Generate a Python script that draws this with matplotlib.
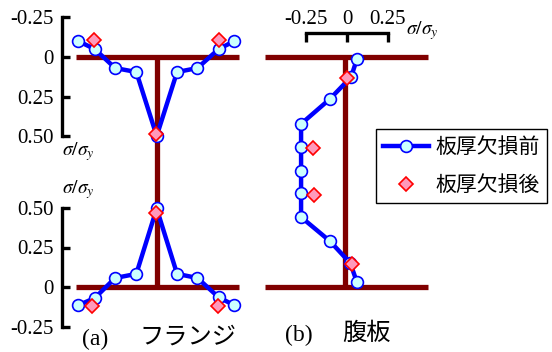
import matplotlib
matplotlib.use("Agg")
import matplotlib.pyplot as plt
from matplotlib import font_manager

SERIF = 'Liberation Serif'
names = {f.name for f in font_manager.fontManager.ttflist}
if SERIF not in names:
    SERIF = 'DejaVu Serif'
plt.rcParams['font.family'] = [SERIF, 'Noto Sans CJK JP']
plt.rcParams['mathtext.fontset'] = 'stix'

# ---- data (sigma / sigma_y) ----
# flange: position across flange width (0 = left tip, 1 = right tip)
flange_pos = [0.015, 0.115, 0.24, 0.37, 0.495, 0.62, 0.745, 0.875, 0.97]
top_before = [-0.10, -0.05, 0.07, 0.095, 0.50, 0.095, 0.07, -0.05, -0.10]
top_after_pos = [0.11, 0.49, 0.877]
top_after = [-0.11, 0.49, -0.11]

bot_before = [-0.115, -0.07, 0.057, 0.083, 0.497, 0.083, 0.057, -0.065, -0.115]
bot_after_pos = [0.10, 0.49, 0.87]
bot_after = [-0.12, 0.47, -0.12]

# web: depth from top flange (0) to bottom flange (1)
web_depth = [0.01, 0.087, 0.183, 0.291, 0.391, 0.496, 0.591, 0.696, 0.80, 0.896, 0.978]
web_before = [0.06, 0.025, -0.105, -0.28, -0.28, -0.28, -0.28, -0.28, -0.105, 0.02, 0.06]
web_after_depth = [0.091, 0.394, 0.599, 0.901]
web_after = [0.002, -0.21, -0.20, 0.033]

flange_ticks = [-0.25, 0, 0.25, 0.50]
flange_ticklabels = ['-0.25', '0', '0.25', '0.50']
web_ticks = [-0.25, 0, 0.25]
web_ticklabels = ['-0.25', '0', '0.25']
legend_labels = ['板厚欠損前', '板厚欠損後']

W, H = 552, 352
BEAM = '#800000'
BLUE = '#0000ff'

fig = plt.figure(figsize=(W / 100, H / 100), dpi=100)


def px_axes(x0, y0, x1, y1):
    return fig.add_axes([x0 / W, 1 - y1 / H, (x1 - x0) / W, (y1 - y0) / H])


def lin(p, a_px, a_val, b_px, b_val):
    return a_val + (p - a_px) * (b_val - a_val) / (b_px - a_px)


# schematic of the I-sections, pixel frame
bg = px_axes(0, 0, W, H)
bg.set_xlim(0, W)
bg.set_ylim(H, 0)
bg.axis('off')
for x0, xw in [(76, 157), (265, 345)]:
    x1 = x0 + 163
    bg.plot([x0, x1], [57, 57], color=BEAM, lw=3.8, solid_capstyle='butt')
    bg.plot([x0, x1], [287, 287], color=BEAM, lw=3.8, solid_capstyle='butt')
    bg.plot([xw, xw], [57, 287], color=BEAM, lw=3.8, solid_capstyle='butt')

bg.text(95, 339, '(a)', fontsize=17, ha='center', va='center', family=[SERIF])
bg.text(188, 337, 'フランジ', fontsize=17.5, ha='center', va='center',
        family=['Noto Sans CJK JP'])
bg.text(299, 335, '(b)', fontsize=17, ha='center', va='center', family=[SERIF])
bg.text(366, 333, '腹板', fontsize=17.5, ha='center', va='center',
        family=['Noto Sans CJK JP'])
bg.text(62, 152, r'$\sigma/\sigma_y$', fontsize=14, ha='left', va='center')
bg.text(62, 190, r'$\sigma/\sigma_y$', fontsize=14, ha='left', va='center')
bg.text(406, 31, r'$\sigma/\sigma_y$', fontsize=14, ha='left', va='center')

line_kw = dict(color=BLUE, lw=3.2, marker='o', ms=8.5, mfc='#ccffff',
               mec=BLUE, mew=1.2, clip_on=False, zorder=3)
dia_kw = dict(ls='none', marker='D', ms=7, mfc='#ff99bb', mec='#ff0000',
              mew=1.2, clip_on=False, zorder=4)


def style_flange(ax):
    ax.patch.set_visible(False)
    for s in ['top', 'right', 'bottom']:
        ax.spines[s].set_visible(False)
    ax.spines['left'].set_linewidth(2.4)
    ax.spines['left'].set_bounds(-0.25, 0.50)
    ax.set_xticks([])
    ax.set_yticks(flange_ticks)
    ax.set_yticklabels(flange_ticklabels, family=SERIF)
    ax.tick_params(axis='y', direction='in', length=5.5, width=2.4,
                   labelsize=15, pad=6)


# (a) top flange
ax1 = px_axes(62, 10, 250, 165)
ax1.set_xlim(lin(62, 76, 0, 239, 1), lin(250, 76, 0, 239, 1))
ax1.set_ylim(lin(165, 57, 0, 136, 0.5), lin(10, 57, 0, 136, 0.5))
style_flange(ax1)
ax1.plot(flange_pos, top_before, **line_kw)
ax1.plot(top_after_pos, top_after, **dia_kw)

# (a) bottom flange
ax2 = px_axes(62, 195, 250, 332)
ax2.set_xlim(lin(62, 76, 0, 239, 1), lin(250, 76, 0, 239, 1))
ax2.set_ylim(lin(332, 287, 0, 208, 0.5), lin(195, 287, 0, 208, 0.5))
style_flange(ax2)
ax2.plot(flange_pos, bot_before, **line_kw)
ax2.plot(bot_after_pos, bot_after, **dia_kw)

# (b) web
ax3 = px_axes(285, 33, 400, 295)
ax3.set_xlim(lin(285, 347, 0, 306, -0.25), lin(400, 347, 0, 306, -0.25))
ax3.set_ylim(lin(295, 57, 0, 287, 1), lin(33, 57, 0, 287, 1))
ax3.patch.set_visible(False)
for s in ['left', 'right', 'bottom']:
    ax3.spines[s].set_visible(False)
ax3.spines['top'].set_linewidth(2.4)
ax3.spines['top'].set_bounds(-0.25, 0.25)
ax3.set_yticks([])
ax3.xaxis.tick_top()
ax3.set_xticks(web_ticks)
ax3.set_xticklabels(web_ticklabels, family=SERIF)
ax3.tick_params(axis='x', direction='in', length=6.5, width=2.4,
                labelsize=15, pad=3)
h1, = ax3.plot(web_before, web_depth, **line_kw)
h2, = ax3.plot(web_after, web_after_depth, **dia_kw)

fig.legend([h1, h2], legend_labels, loc='upper left',
           bbox_to_anchor=(376 / W, 1 - 129 / H), borderaxespad=0,
           prop={'family': ['Noto Sans CJK JP'], 'size': 15},
           frameon=True, fancybox=False, framealpha=1, edgecolor='black',
           handlelength=2.2, handletextpad=0.3, labelspacing=0.75,
           borderpad=0.35)
fig.legends[0].get_frame().set_linewidth(1.0)

fig.savefig('out.png', dpi=100)
